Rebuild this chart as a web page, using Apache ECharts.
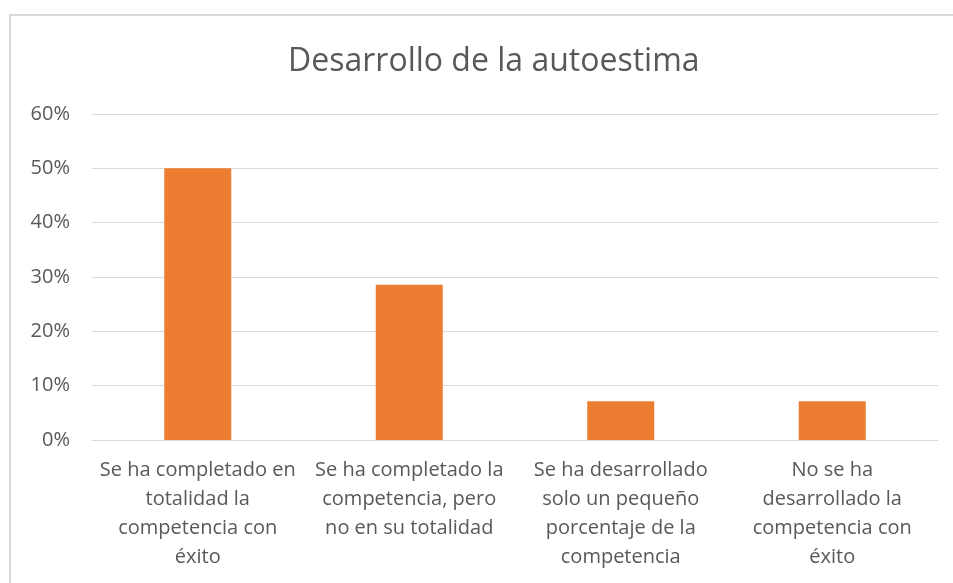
<!DOCTYPE html>
<html>
<head>
<meta charset="utf-8">
<script src="https://cdn.jsdelivr.net/npm/echarts@6/dist/echarts.min.js"></script>
<style>
  html, body { margin: 0; padding: 0; background: #fff; }
  #main { position: absolute; left: 0; top: 0; width: 953px; height: 583px; }
  /* marco gris del gráfico (arriba e izquierda) */
  #frame { position: absolute; left: 9px; top: 14px; width: 944px; height: 569px;
           border-left: 2px solid #d9d9d9; border-top: 2px solid #d9d9d9; pointer-events: none; }
</style>
</head>
<body>
<div id="main"></div>
<div id="frame"></div>
<script>
// datos
var categorias = [
  'Se ha completado en\ntotalidad la\ncompetencia con\néxito',
  'Se ha completado la\ncompetencia, pero\nno en su totalidad',
  'Se ha desarrollado\nsolo un pequeño\nporcentaje de la\ncompetencia',
  'No se ha\ndesarrollado la\ncompetencia con\néxito'
];
var porcentajes = [0.50, 0.2857, 0.0714, 0.0714];
var titulo = 'Desarrollo de la autoestima';

var chart = echarts.init(document.getElementById('main'));
var option = {
  animation: false,
  title: {
    text: titulo,
    left: 283,
    top: 41,
    textStyle: { fontFamily: 'Open Sans', fontWeight: 'normal', fontSize: 32, color: '#595959' }
  },
  grid: { left: 92, right: 15, top: 114, bottom: 143 },
  xAxis: {
    type: 'category',
    data: categorias,
    axisLine: { lineStyle: { color: '#d9d9d9', width: 1 } },
    axisTick: { show: false },
    axisLabel: {
      interval: 0,
      margin: 16,
      fontFamily: 'Open Sans',
      fontSize: 20,
      lineHeight: 29,
      color: '#595959'
    }
  },
  yAxis: {
    type: 'value',
    min: 0,
    max: 0.6,
    interval: 0.1,
    axisLine: { show: false },
    axisTick: { show: false },
    splitLine: { lineStyle: { color: '#d9d9d9', width: 1 } },
    axisLabel: {
      margin: 22,
      fontFamily: 'Open Sans',
      fontSize: 20,
      color: '#595959',
      formatter: function (v) { return Math.round(v * 100) + '%'; }
    }
  },
  series: [
    {
      type: 'bar',
      data: porcentajes,
      barWidth: 67,
      itemStyle: { color: '#ed7d31' }
    }
  ]
};
chart.setOption(option);
</script>
</body>
</html>
